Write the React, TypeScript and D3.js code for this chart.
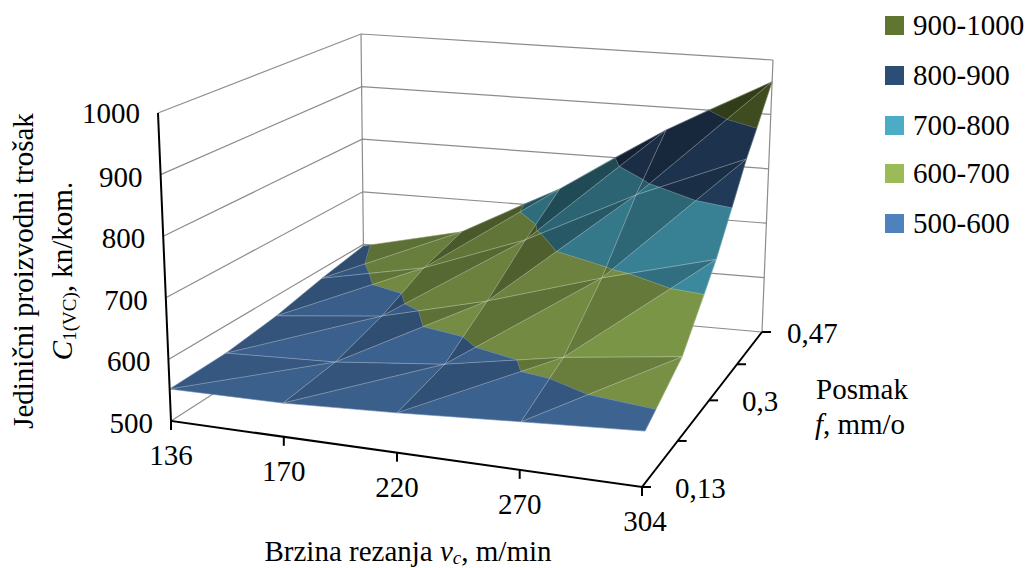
import React from "react";
import * as d3 from "d3";

const columnLabels = ["136", "170", "220", "270", "304"];
const rowLabels = ["0,13", "", "0,3", "", "0,47"];
const zTicks = [500, 600, 700, 800, 900, 1000];

// cost value per row (feed, front to back), per column (speed)
const row013 = [552, 554, 563, 575, 586];
const row020 = [554, 561, 579, 613, 636];
const row030 = [565, 584, 629, 688, 738];
const row040 = [583, 619, 686, 783, 862];
const row047 = [597, 639, 734, 858, 960];
const surface = [row013, row020, row030, row040, row047];

const bandNames = ["900-1000", "800-900", "700-800", "600-700", "500-600"];
const bandFloors = [900, 800, 700, 600, 500];
const bandColors = ["#5F7530", "#2C4D75", "#4BACC6", "#9BBB59", "#4F81BD"];

type P = [number, number];
function homography(p0: P, p1: P, p2: P, p3: P) {
  const dx1 = p1[0] - p2[0], dx2 = p3[0] - p2[0], sx = p0[0] - p1[0] + p2[0] - p3[0];
  const dy1 = p1[1] - p2[1], dy2 = p3[1] - p2[1], sy = p0[1] - p1[1] + p2[1] - p3[1];
  const den = dx1 * dy2 - dx2 * dy1;
  const g = (sx * dy2 - dx2 * sy) / den, h = (dx1 * sy - sx * dy1) / den;
  const a = p1[0] - p0[0] + g * p1[0], b = p3[0] - p0[0] + h * p3[0];
  const d = p1[1] - p0[1] + g * p1[1], e = p3[1] - p0[1] + h * p3[1];
  return (u: number, v: number): P => {
    const w = 1 + g * u + h * v;
    return [(a * u + b * v + p0[0]) / w, (d * u + e * v + p0[1]) / w];
  };
}

const floorAt = homography([171, 421], [642, 487], [762, 332], [364, 297]);
const topAt = homography([158, 113], [660, 162], [773, 60], [361, 34]);
const uScale = d3.scaleLinear().domain([0, 1, 2, 3, 4]).range([0, 0.27, 0.52, 0.77, 1]);
const vScale = d3.scaleLinear().domain([0, 4]).range([0, 1]);
const zScale = d3.scaleLinear().domain([500, 1000]).range([0, 1]);

function project(u: number, v: number, z: number): P {
  const f = floorAt(u, v), t = topAt(u, v), k = zScale(z);
  return [f[0] + (t[0] - f[0]) * k, f[1] + (t[1] - f[1]) * k];
}
const line = d3.line<P>();
const poly = (pts: P[]) => line(pts) + "Z";

type V = [number, number, number];
function clip(tri: V[], test: (z: number) => number): V[] {
  const out: V[] = [];
  tri.forEach((a, i) => {
    const b = tri[(i + 1) % tri.length];
    const sa = test(a[2]), sb = test(b[2]);
    if (sa >= 0) out.push(a);
    if (sa * sb < 0) {
      const t = sa / (sa - sb);
      out.push([a[0] + (b[0] - a[0]) * t, a[1] + (b[1] - a[1]) * t, a[2] + (b[2] - a[2]) * t]);
    }
  });
  return out;
}

const shade = (hex: string, k: number) => {
  const c = d3.rgb(hex);
  return d3.rgb(c.r * k, c.g * k, c.b * k).formatHex();
};

const facets: { d: string; fill: string }[] = [];
const edges: string[] = [];
const contours: string[] = [];
const vert = (c: number, r: number): V => [uScale(c), vScale(r), surface[r][c]];
const pv = (q: V) => project(q[0], q[1], q[2]);

for (let r = 0; r < 4; r++) {
  for (let c = 0; c < 4; c++) {
    const lower = [vert(c, r), vert(c + 1, r), vert(c + 1, r + 1)];
    const upper = [vert(c, r), vert(c + 1, r + 1), vert(c, r + 1)];
    const duL = surface[r][c + 1] - surface[r][c], dvL = surface[r + 1][c + 1] - surface[r][c + 1];
    const duU = surface[r + 1][c + 1] - surface[r + 1][c], dvU = surface[r + 1][c] - surface[r][c];
    const kL = 0.74 - 0.0025 * duL + 0.0011 * dvL;
    const kU = 0.69 - 0.0025 * duU + 0.0011 * dvU;
    [[lower, kL], [upper, kU]].forEach(([tri, k]: any) => {
      bandFloors.forEach((lo, b) => {
        let pg = clip(tri, (z) => z - lo);
        if (pg.length) pg = clip(pg, (z) => lo + 100 - z);
        if (pg.length > 2) facets.push({ d: poly(pg.map(pv)), fill: shade(bandColors[b], k) });
        if (lo > 500) {
          const pts: P[] = [];
          tri.forEach((a: V, i: number) => {
            const n: V = tri[(i + 1) % 3];
            if ((a[2] - lo) * (n[2] - lo) < 0) {
              const t = (lo - a[2]) / (n[2] - a[2]);
              pts.push(pv([a[0] + (n[0] - a[0]) * t, a[1] + (n[1] - a[1]) * t, lo]));
            }
          });
          if (pts.length === 2) contours.push(line(pts)!);
        }
      });
      const pp = (tri as V[]).map(pv);
      edges.push(poly(pp));
    });
  }
}

const serif = "'Liberation Serif', 'Times New Roman', serif";
const grid = "#8c8c8c";
const rowLabelOffsets = [33, 0, 33, 0, 25];

export default function App() {
  const A = floorAt(0, 0), B = floorAt(1, 0), C = floorAt(1, 1);
  return (
    <svg width={1029} height={568} viewBox="0 0 1029 568"
      style={{ position: "absolute", left: 0, top: 0, background: "#fff" }} fontFamily={serif} fill="#000">
      {/* walls */}
      {zTicks.map((z) => {
        const a = project(0, 0, z), b = project(0, 1, z), c = project(1, 1, z);
        return <path key={z} d={line([a, b, c])!} fill="none" stroke={grid} strokeWidth={1.2} />;
      })}
      <path d={line([project(0, 1, 500), project(0, 1, 1000)])!} stroke={grid} strokeWidth={1.2} fill="none" />
      <path d={line([project(1, 1, 500), project(1, 1, 1000)])!} stroke={grid} strokeWidth={1.2} fill="none" />
      {/* surface */}
      {facets.map((f, i) => <path key={i} d={f.d} fill={f.fill} stroke={f.fill} strokeWidth={0.5} />)}
      <g fill="none" stroke="#ffffff" strokeOpacity={0.27} strokeWidth={0.6}>
        {edges.map((d, i) => <path key={i} d={d} />)}
        {contours.map((d, i) => <path key={i} d={d} />)}
      </g>
      {/* axes */}
      <g stroke="#000" strokeWidth={2} fill="none">
        <path d={line([project(0, 0, 1000), A, B, C])!} />
        {columnLabels.map((_, i) => {
          const p = floorAt(uScale(i), 0);
          return <path key={i} d={`M${p[0]},${p[1]}v9`} />;
        })}
        {rowLabels.map((_, i) => {
          const p = floorAt(1, vScale(i));
          return <path key={i} d={`M${p[0]},${p[1]}h9`} />;
        })}
      </g>
      {/* tick labels */}
      <g fontSize={29}>
        {zTicks.map((z) => {
          const p = project(0, 0, z);
          return <text key={z} x={p[0] - 18} y={p[1] + (z === 1000 ? 10 : 12)} textAnchor="end">{z}</text>;
        })}
        {columnLabels.map((l, i) => {
          const p = floorAt(uScale(i), 0);
          return <text key={l} x={p[0] + (i === 4 ? 3 : 0)} y={p[1] + 44} textAnchor="middle">{l}</text>;
        })}
        {rowLabels.map((l, i) => {
          const p = floorAt(1, vScale(i));
          return l ? <text key={l} x={p[0] + rowLabelOffsets[i]} y={p[1] + 11}>{l}</text> : null;
        })}
      </g>
      {/* titles */}
      <g fontSize={29}>
        <text transform="translate(33,271) rotate(-90)" textAnchor="middle">Jedinični proizvodni trošak</text>
        <text transform="translate(72,271) rotate(-90)" textAnchor="middle">
          <tspan fontStyle="italic">C</tspan><tspan fontSize={19} dy={4}>1(VC)</tspan><tspan dy={-4}>, kn/kom.</tspan>
        </text>
        <text x={408} y={561} textAnchor="middle">
          Brzina rezanja <tspan fontStyle="italic">v</tspan><tspan fontSize={19} dy={3} fontStyle="italic">c</tspan><tspan dy={-3}>, m/min</tspan>
        </text>
        <text x={862} y={399} textAnchor="middle">Posmak</text>
        <text x={860} y={434} textAnchor="middle"><tspan fontStyle="italic">f</tspan>, mm/o</text>
      </g>
      {/* legend */}
      {bandNames.map((n, i) => {
        const ys = [16, 66, 116, 164, 214];
        return (
          <g key={n}>
            <rect x={885} y={ys[i]} width={19} height={19} fill={bandColors[i]} />
            <text x={913} y={ys[i] + 19} fontSize={29}>{n}</text>
          </g>
        );
      })}
    </svg>
  );
}
